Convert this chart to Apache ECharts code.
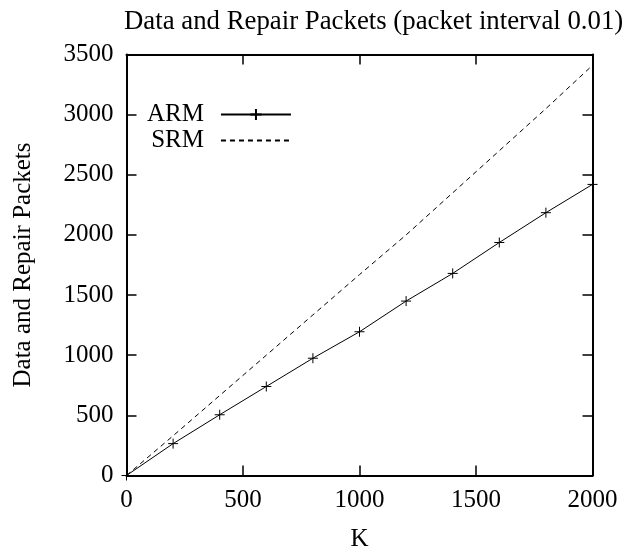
<!DOCTYPE html>
<html>
<head>
<meta charset="utf-8">
<script src="https://cdn.jsdelivr.net/npm/echarts@6/dist/echarts.min.js"></script>
<style>html,body{margin:0;padding:0;background:#fff}#c{width:628px;height:552px}</style>
</head>
<body>
<div id="c"></div>
<script>
var kValues = [0, 200, 400, 600, 800, 1000, 1200, 1400, 1600, 1800, 2000];
var armValues = [0, 265, 505, 740, 975, 1195, 1450, 1680, 1937, 2185, 2420];
var srmValues = [0, 330, 665, 1000, 1335, 1670, 2000, 2350, 2700, 3050, 3410];
var seriesNames = ['ARM', 'SRM'];
var titleText = 'Data and Repair Packets (packet interval 0.01)';
var xName = 'K';
var yName = 'Data and Repair Packets';

function pairs(xs, ys) { return xs.map(function (x, i) { return [x, ys[i]]; }); }
function plain(v) { return String(v); }

var font = 'Liberation Serif';
var chart = echarts.init(document.getElementById('c'), null, {renderer: 'canvas'});
function axisBase(extra) {
  return Object.assign({
    type: 'value',
    axisLine: {show: true, onZero: false, lineStyle: {color: '#000', width: 2}},
    axisTick: {show: true, inside: true, length: 10, lineStyle: {color: '#000', width: 1.5}},
    splitLine: {show: false}
  }, extra);
}
chart.setOption({
  backgroundColor: '#fff',
  animation: false,
  title: {
    text: titleText, left: 124, top: 8, padding: 0,
    textStyle: {fontFamily: font, fontSize: 26.8, fontWeight: 'normal', color: '#000'}
  },
  legend: {
    orient: 'vertical', align: 'right', left: 147, top: 102, padding: 0, itemGap: 1,
    itemWidth: 70, itemHeight: 14,
    data: seriesNames,
    textStyle: {fontFamily: font, fontSize: 25, color: '#000', lineHeight: 25, padding: [0, 12, 0, 0]}
  },
  grid: {left: 126.5, right: 35.5, top: 54.5, bottom: 76.5, outerBoundsMode: 'none', containLabel: false},
  xAxis: [
    axisBase({
      position: 'bottom', min: 0, max: 2000, interval: 500,
      name: xName, nameLocation: 'middle', nameGap: 51,
      nameTextStyle: {fontFamily: font, fontSize: 25, color: '#000'},
      axisLabel: {fontFamily: font, fontSize: 25, color: '#000', margin: 12, formatter: plain, hideOverlap: false, showMinLabel: true, showMaxLabel: true}
    }),
    axisBase({
      position: 'top', min: 0, max: 2000, interval: 500, axisLabel: {show: false}
    })
  ],
  yAxis: [
    axisBase({
      position: 'left', min: 0, max: 3500, interval: 500,
      name: yName, nameLocation: 'middle', nameGap: 91, nameRotate: 90,
      nameTextStyle: {fontFamily: font, fontSize: 25, color: '#000'},
      axisLabel: {fontFamily: font, fontSize: 25, color: '#000', margin: 13, formatter: plain, hideOverlap: false, showMinLabel: true, showMaxLabel: true}
    }),
    axisBase({
      position: 'right', min: 0, max: 3500, interval: 500, axisLabel: {show: false}
    })
  ],
  series: [
    {
      name: seriesNames[0], type: 'line', xAxisIndex: 0, yAxisIndex: 0,
      data: pairs(kValues, armValues),
      symbol: 'path://M0,5L10,5M5,0L5,10', symbolSize: 10, showSymbol: true,
      itemStyle: {color: '#000', borderColor: '#000', borderWidth: 1},
      lineStyle: {color: '#000', width: 1},
      clip: false
    },
    {
      name: seriesNames[1], type: 'line', xAxisIndex: 0, yAxisIndex: 0,
      data: pairs(kValues, srmValues),
      symbol: 'path://M0,0L10,0L10,10L0,10Z', symbolSize: 1, showSymbol: false,
      itemStyle: {color: 'rgba(0,0,0,0)', borderColor: 'rgba(0,0,0,0)', borderWidth: 0},
      lineStyle: {color: '#000', width: 1, type: [5, 4]},
      clip: false
    }
  ]
});
</script>
</body>
</html>
